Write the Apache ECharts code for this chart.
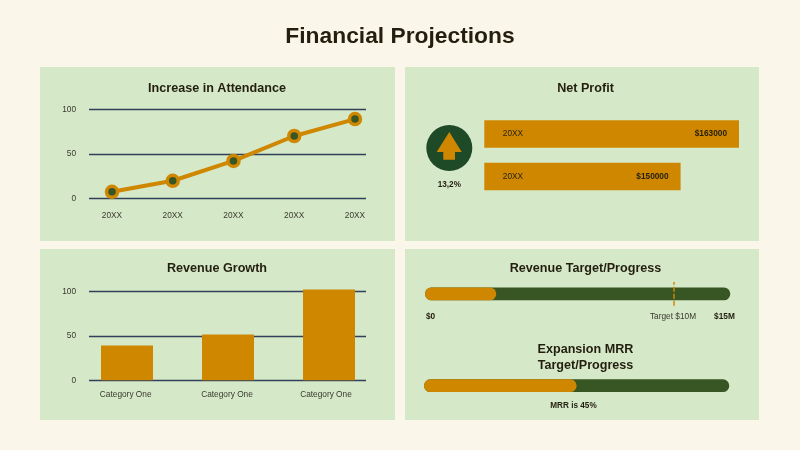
<!DOCTYPE html>
<html><head><meta charset="utf-8">
<style>html,body{margin:0;padding:0;background:#FBF6EA}#c{width:800px;height:450px}</style>
<script src="https://cdn.jsdelivr.net/npm/echarts@6/dist/echarts.min.js"></script>
</head><body><div id="c"></div>
<script>
const attendanceLabels = ['20XX','20XX','20XX','20XX','20XX'];
const attendanceValues = [7.3,19.7,42,70,89];
const revenueLabels = ['Category One','Category One','Category One'];
const revenueValues = [39,51.5,102];
const profitLabels = ['20XX','20XX'];
const profitValues = [163000,150000];
const profitText = ['$163000','$150000'];
const revenueProgress = 3.5, revenueMax = 15, revenueTargetPos = 12.2;
const mrrProgress = 50, mrrMax = 100;

const FONT = '"Liberation Sans", Arial, sans-serif';
const INK = '#231F0F', ORANGE = '#D08700', GREEN = '#375623', DEEP = '#1F4A27', PANEL = '#D5E8C8', RULE = '#33405A', TICK = '#3A3A2E';
const TS = 8.3;

function panel(x,y,w,h){return {type:'rect',z:-10,silent:true,shape:{x,y,width:w,height:h},style:{fill:PANEL}};}
function txt(text,x,y,size,bold,align,color){return {type:'text',z:20,silent:true,style:{text,x,y,align:align||'center',verticalAlign:'middle',fill:color||INK,font:(bold?'bold ':'')+size+'px '+FONT}};}
function heading(text,x,y,size,lh){return {text,left:x,top:y,textAlign:'center',textVerticalAlign:'middle',padding:0,textStyle:{fontFamily:FONT,fontWeight:'bold',fontSize:size,color:INK,lineHeight:lh||size*1.2}};}

const chart = echarts.init(document.getElementById('c'),null,{renderer:'canvas'});
const hiddenAxis = (i,extra)=>Object.assign({gridIndex:i,show:false},extra);
const numY = (i)=>({type:'value',gridIndex:i,min:0,max:100,interval:50,axisLine:{show:false},axisTick:{show:false},
  axisLabel:{color:TICK,fontFamily:FONT,fontSize:TS,margin:13},splitLine:{show:true,lineStyle:{color:RULE,width:1.4}}});
const lineX = {type:'value',gridIndex:0,min:-23/60.75,max:4+11/60.75,axisLine:{show:false},axisTick:{show:false},splitLine:{show:false},
  axisLabel:{customValues:[0,1,2,3,4],margin:13.5,color:TICK,fontFamily:FONT,fontSize:TS,formatter:v=>attendanceLabels[Math.round(v)]}};
const barX = {type:'value',gridIndex:1,min:-38/101,max:2+37/101,axisLine:{show:false},axisTick:{show:false},splitLine:{show:false},
  axisLabel:{customValues:[-0.013,0.99,1.97],margin:10.5,color:TICK,fontFamily:FONT,fontSize:TS,formatter:v=>revenueLabels[Math.round(v)]}};

chart.setOption({
  animation:false,
  backgroundColor:'#FBF6EA',
  title:[
    heading('Financial Projections',400,36.5,22.8),
    heading('Increase in Attendance',217,88.7,12.6),
    heading('Net Profit',585.5,88.7,12.6),
    heading('Revenue Growth',217,268.5,12.6),
    heading('Revenue Target/Progress',585.5,268.5,12.6),
    heading('Expansion MRR\nTarget/Progress',585.5,357.5,12.6,16)
  ],
  graphic:[
    panel(40,67,355,174),panel(405,67,354,174),panel(40,249,355,171),panel(405,249,354,171),
    {type:'circle',z:5,silent:true,shape:{cx:449.3,cy:148,r:23},style:{fill:DEEP}},
    {type:'polygon',z:6,silent:true,shape:{points:[[449.3,132],[461.7,152],[455,152],[455,159.7],[443.3,159.7],[443.3,152],[436.7,152]]},style:{fill:ORANGE}},
    txt('13,2%',449.3,185,8.2,true),
    txt('$0',426,316.5,8.3,true,'left'),
    txt('Target $10M',673,316.5,TS,false,'center',TICK),
    txt('$15M',724.5,316.5,8.3,true),
    txt('MRR is 45%',573.5,406,8.2,true)
  ],
  grid:[
    {left:89,top:109.3,width:277,height:89},
    {left:89,top:291.3,width:277,height:89},
    {left:484.3,top:112.75,width:254.7,height:85},
    {left:425,top:282,width:305.3,height:23.8},
    {left:424,top:372.7,width:305.3,height:26}
  ],
  xAxis:[lineX,barX,
    hiddenAxis(2,{type:'value',min:106300,max:163000}),
    hiddenAxis(3,{type:'value',min:0,max:revenueMax}),
    hiddenAxis(4,{type:'value',min:0,max:mrrMax})],
  yAxis:[numY(0),numY(1),
    hiddenAxis(2,{type:'category',inverse:true,data:profitLabels}),
    hiddenAxis(3,{type:'category',data:['Revenue']}),
    hiddenAxis(4,{type:'category',data:['MRR']})],
  series:[
    {type:'line',xAxisIndex:0,yAxisIndex:0,z:5,data:attendanceValues.map((v,i)=>[i,v]),
     symbol:'circle',symbolSize:11,showAllSymbol:true,
     lineStyle:{color:ORANGE,width:4},itemStyle:{color:GREEN,borderColor:ORANGE,borderWidth:3.5}},
    {type:'bar',xAxisIndex:1,yAxisIndex:1,clip:false,barWidth:52,data:revenueValues.map((v,i)=>[i,v]),itemStyle:{color:ORANGE}},
    {type:'bar',xAxisIndex:2,yAxisIndex:2,barWidth:27.6,data:profitValues,itemStyle:{color:ORANGE},
     label:{show:true,position:'insideLeft',distance:18.5,formatter:p=>profitLabels[p.dataIndex],color:INK,fontFamily:FONT,fontSize:TS}},
    {type:'bar',xAxisIndex:2,yAxisIndex:2,barWidth:27.6,barGap:'-100%',data:profitValues,itemStyle:{color:'rgba(0,0,0,0)'},
     label:{show:true,position:'insideRight',distance:12,formatter:p=>profitText[p.dataIndex],color:INK,fontFamily:FONT,fontSize:8.3,fontWeight:'bold'}},
    {type:'bar',xAxisIndex:3,yAxisIndex:3,barWidth:12.8,data:[revenueMax],itemStyle:{color:GREEN,borderRadius:6.4},z:2,
     markLine:{silent:true,symbol:'none',label:{show:false},z:6,lineStyle:{color:ORANGE,type:[5,2],width:1.5},data:[{xAxis:revenueTargetPos}]}},
    {type:'bar',xAxisIndex:3,yAxisIndex:3,barWidth:12.8,barGap:'-100%',data:[revenueProgress],itemStyle:{color:ORANGE,borderRadius:6.4},z:3},
    {type:'bar',xAxisIndex:4,yAxisIndex:4,barWidth:12.8,data:[mrrMax],itemStyle:{color:GREEN,borderRadius:6.4},z:2},
    {type:'bar',xAxisIndex:4,yAxisIndex:4,barWidth:12.8,barGap:'-100%',data:[mrrProgress],itemStyle:{color:ORANGE,borderRadius:6.4},z:3}
  ]
});
</script></body></html>
